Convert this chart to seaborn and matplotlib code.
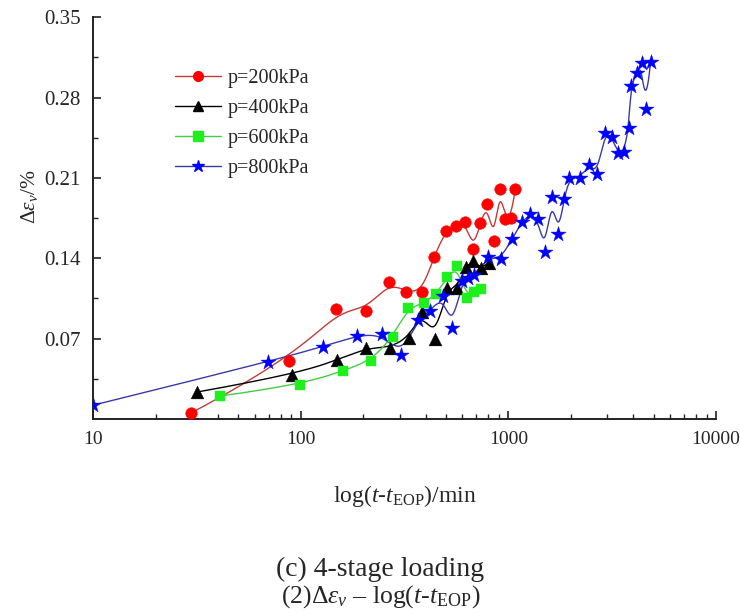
import numpy as np
import matplotlib
matplotlib.use("Agg")
import matplotlib.pyplot as plt
from matplotlib.lines import Line2D
from matplotlib.ticker import FixedLocator, LogLocator, NullFormatter, FixedFormatter
import seaborn as sns

# ---- measured creep strain increments after end of primary consolidation ----
t_200 = [29.6, 88, 148, 205.6, 265, 322, 383, 437, 499, 560, 618, 678, 733, 791, 850, 908, 967, 1029, 1079]
e_200 = [0.0052, 0.0505, 0.0956, 0.0944, 0.119, 0.111, 0.1107, 0.141, 0.164, 0.168, 0.172, 0.148, 0.171,
         0.187, 0.155, 0.2007, 0.174, 0.1749, 0.200]

t_400 = [31.7, 90.8, 149.6, 207, 268, 331, 384, 443, 505, 564, 623, 675, 738, 803]
e_400 = [0.0235, 0.0383, 0.0511, 0.0621, 0.0621, 0.0709, 0.0932, 0.070, 0.1139, 0.1141, 0.1327, 0.1377,
         0.1313, 0.1357]

t_600 = [40.8, 99.6, 160, 217, 277, 327, 391, 448, 508, 566, 630, 685, 740]
e_600 = [0.020, 0.0296, 0.0421, 0.0505, 0.0712, 0.0964, 0.1008, 0.1086, 0.1235, 0.1333, 0.1052, 0.1104, 0.1133]

t_800 = [10, 69.4, 127.6, 187, 245, 305, 366, 421, 483, 535, 600, 641, 683, 800, 918, 1038, 1159, 1271,
         1388, 1496, 1617, 1738, 1853, 1965, 2212, 2437, 2681, 2911, 3143, 3358, 3603, 3795, 3890, 4146,
         4384, 4598, 4842]
e_800 = [0.012, 0.0497, 0.063, 0.0726, 0.0743, 0.0555, 0.0865, 0.0944, 0.1069, 0.0793, 0.1205, 0.1226,
         0.1255, 0.1409, 0.1394, 0.1566, 0.1714, 0.1786, 0.174, 0.1458, 0.1937, 0.1612, 0.1914, 0.210,
         0.210, 0.2216, 0.2135, 0.2495, 0.246, 0.232, 0.2326, 0.2538, 0.290, 0.3017, 0.310, 0.2704, 0.3113]

labels = ["p=200kPa", "p=400kPa", "p=600kPa", "p=800kPa"]
y_ticks = [0.07, 0.14, 0.21, 0.28, 0.35]
y_tick_labels = ["0.07", "0.14", "0.21", "0.28", "0.35"]
x_ticks = [10, 100, 1000, 10000]
x_tick_labels = ["10", "100", "1000", "10000"]


def bspline_curve(t, e, n=600):
    """Clamped uniform cubic B-spline using the measured points as control polygon (log-time)."""
    P = np.column_stack([np.log10(t), e])
    m, k = len(P), 3
    knots = np.concatenate([np.zeros(k), np.linspace(0, 1, m - k + 1), np.ones(k)])
    u = np.linspace(0, 1, n)
    N = np.zeros((n, len(knots) - 1))
    for i in range(len(knots) - 1):
        N[:, i] = (knots[i] <= u) & (u < knots[i + 1])
    N[u >= 1, m - 1] = 1.0
    for p in range(1, k + 1):
        Nn = np.zeros((n, len(knots) - 1 - p))
        for i in range(len(knots) - 1 - p):
            d1 = knots[i + p] - knots[i]
            d2 = knots[i + p + 1] - knots[i + 1]
            a = (u - knots[i]) / d1 * N[:, i] if d1 > 0 else 0.0
            b = (knots[i + p + 1] - u) / d2 * N[:, i + 1] if d2 > 0 else 0.0
            Nn[:, i] = a + b
        N = Nn
    C = N @ P
    return 10 ** C[:, 0], C[:, 1]


sns.set_style("ticks")
plt.rcParams["font.family"] = ["Liberation Serif", "DejaVu Serif"]
plt.rcParams["mathtext.fontset"] = "custom"
plt.rcParams["mathtext.rm"] = "Liberation Serif"
plt.rcParams["mathtext.it"] = "Liberation Serif:italic"
plt.rcParams["mathtext.bf"] = "Liberation Serif:bold"

fig = plt.figure(figsize=(7.4, 6.14), dpi=100)
ax = fig.add_axes([0.1257, 0.3176, 0.8419, 0.6542])

series = [
    (t_200, e_200, "#c43a3a", "#ff0000", "o", 70),
    (t_400, e_400, "#000000", "#000000", "^", 85),
    (t_600, e_600, "#44cc44", "#1df01d", "s", 55),
    (t_800, e_800, "#3a3aa8", "#0000ff", "*", 130),
]

handles = []
for (t, e, lc, mc, mk, sz), lab in zip(series, labels):
    cx, cy = bspline_curve(t, e)
    sns.lineplot(x=cx, y=cy, sort=False, estimator=None, ax=ax, color=lc, linewidth=1.0, zorder=2)
    sns.scatterplot(x=t, y=e, ax=ax, marker=mk, s=sz, color=mc, edgecolor=mc, linewidth=0.3, zorder=3)
    handles.append(Line2D([], [], color=lc, lw=1.0, marker=mk, markersize=7 if mk != "*" else 9,
                          markerfacecolor=mc, markeredgecolor=mc, label=lab))

ax.set_xscale("log")
ax.set_xlim(10, 10000)
ax.set_ylim(0, 0.35)

ax.xaxis.set_major_locator(FixedLocator(x_ticks))
ax.xaxis.set_major_formatter(FixedFormatter(x_tick_labels))
ax.xaxis.set_minor_locator(LogLocator(base=10, subs=np.arange(2, 10)))
ax.xaxis.set_minor_formatter(NullFormatter())
ax.yaxis.set_major_locator(FixedLocator(y_ticks))
ax.yaxis.set_major_formatter(FixedFormatter(y_tick_labels))
ax.yaxis.set_minor_locator(FixedLocator([0.035, 0.105, 0.175, 0.245, 0.315]))

ax.tick_params(which="major", direction="in", length=6, width=1.2, labelsize=15, pad=9, color="#222222")
ax.tick_params(axis="x", which="major", labelsize=14)
ax.tick_params(which="minor", direction="in", length=3.5, width=1.0, color="#222222")
for side in ("top", "right"):
    ax.spines[side].set_visible(False)
for side in ("left", "bottom"):
    ax.spines[side].set_linewidth(1.4)
    ax.spines[side].set_color("#222222")

ax.set_ylabel(r"$\mathit{\Delta\varepsilon_v}$/%", fontsize=15.5)
ax.yaxis.set_label_coords(-0.085, 0.553)
ax.set_xlabel(r"log($t$-$t_{\mathrm{EOP}}$)/min", fontsize=17)
ax.xaxis.set_label_coords(0.5, -0.16)

ax.legend(handles=handles, loc="upper left", bbox_to_anchor=(0.1316, 0.872), frameon=False,
          fontsize=14.5, handlelength=2.3, handletextpad=0.3, labelspacing=0.55,
          borderpad=0, borderaxespad=0)

fig.text(380 / 740, 1 - 569 / 614, "(c) 4-stage loading", ha="center", va="center", fontsize=20)
fig.text(381 / 740, 1 - 597 / 614, r"(2)$\mathit{\Delta\varepsilon_v}$ – log($t$-$t_{\mathrm{EOP}}$)",
         ha="center", va="center", fontsize=18.5)

fig.savefig("out.png", dpi=100)
